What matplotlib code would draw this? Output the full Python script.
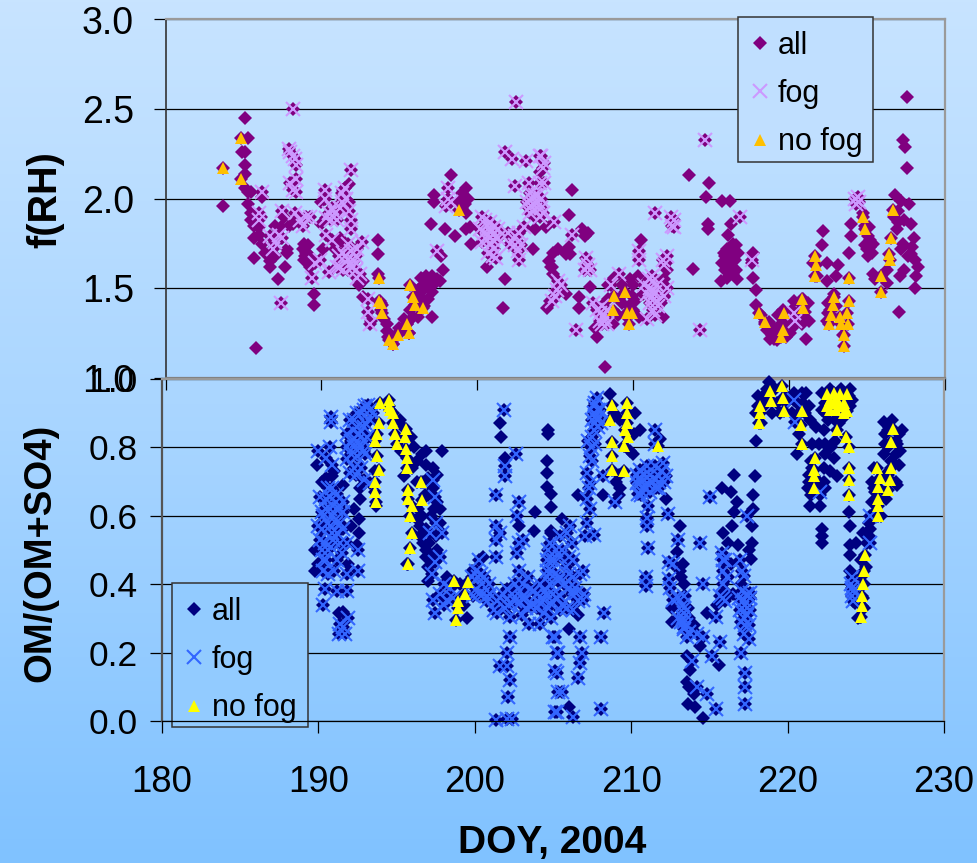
import numpy as np
import matplotlib
matplotlib.use("Agg")
import matplotlib.pyplot as plt
from matplotlib.colors import LinearSegmentedColormap
from matplotlib.patches import Rectangle

plt.rcParams['font.family'] = ['Liberation Sans', 'DejaVu Sans']

# ---------- f(RH) panel: points that are neither fog nor no-fog class ----------
top_other = [(183.7,1.96),(185.1,2.45),(185.3,2.34),(184.9,2.26),(185.1,2.26),(185.1,2.19),(185.1,2.14),(185.1,2.06),
(185.3,2.04),(185.3,1.97),(185.5,2.04),(185.5,1.92),(185.5,1.88),(185.7,1.85),(185.7,1.78),(185.7,1.67),(185.8,1.17),
(186.0,1.84),(186.0,1.80),(186.4,1.70),(186.2,2.01),(186.7,1.62),(186.7,1.65),(187.2,1.55),(187.65,1.62),(187.8,1.70),
(187.8,1.72),(187.4,1.84),(187.4,1.78),(187.9,1.85),(188.2,1.86),(189.5,1.47),(189.5,1.41),(188.8,1.72),(189.15,1.74),
(188.95,1.68),(189.15,1.64),(189.0,1.70),(189.3,1.68),(190.0,1.98),(190.0,1.86),(191.4,2.05),(191.8,2.08),(191.8,1.98),
(191.6,1.74),(191.7,1.60),(192.7,1.54),(193.6,1.77),(193.6,1.69),(193.6,1.58),(192.7,1.45),(193.2,1.32),(193.75,1.43),
(193.85,1.38),(194.2,1.30),(194.3,1.23),(194.6,1.19),(194.9,1.25),(195.2,1.28),(195.5,1.30),(195.6,1.25),(196.2,1.34),
(197.1,1.34),(196.4,1.56),(196.7,1.57),(197.1,1.57),(197.6,1.54),(197.8,1.60),(197.7,1.68),(196.5,1.49),(196.85,1.44),
(196.4,1.45),(196.9,1.51),(197.3,1.53),(196.2,1.49),(196.6,1.52),(197.0,1.86),(197.9,1.83),(198.55,1.79),(197.2,2.02),
(197.2,1.98),(198.3,2.13),(198.8,1.99),(199.3,2.06),(199.2,1.97),(199.3,1.92),(199.3,1.83),(199.6,1.75),(199.0,1.95),
(199.5,1.84),(200.6,1.62),(201.8,1.55),(201.65,1.39),(203.7,1.90),(203.7,1.83),(203.6,1.72),(204.0,2.15),(204.4,1.84),
(204.85,1.70),(204.75,1.62),(204.85,1.58),(206.05,2.05),(205.9,1.91),(205.9,1.73),(205.7,1.69),(205.7,1.47),(204.65,1.43),
(204.5,1.39),(206.5,1.45),(206.5,1.39),(206.7,1.83),(207.1,1.81),(206.9,1.79),(205.95,1.69),(204.8,1.62),(207.2,1.51),
(207.65,1.23),(207.55,1.28),(208.2,1.06),(208.4,1.52),(208.2,1.34),(208.7,1.30),(209.7,1.40),(210.1,1.43),(210.3,1.57),
(210.5,1.77),(209.3,1.42),(209.9,1.46),(209.0,1.35),(210.0,1.38),(210.4,1.34),(211.4,1.46),(212.0,1.55),(212.1,1.64),
(212.1,1.51),(212.0,1.45),(213.6,2.13),(214.85,2.09),(214.7,2.01),(215.7,1.99),(216.2,1.99),(213.85,1.61),(214.8,1.86),
(214.8,1.83),(216.3,1.86),(216.1,1.80),(216.6,1.74),(216.2,1.72),(215.7,1.64),(216.1,1.66),(216.5,1.66),(216.1,1.62),
(215.65,1.54),(216.65,1.55),(216.3,1.69),(215.9,1.68),(217.7,1.70),(217.6,1.64),(217.7,1.56),(217.9,1.49),(217.9,1.41),
(218.2,1.35),(218.45,1.30),(218.75,1.22),(219.2,1.21),(219.5,1.30),(220.4,1.30),(220.05,1.25),(220.7,1.42),(221.2,1.42),
(221.3,1.32),(221.1,1.22),(220.2,1.38),(219.0,1.28),(220.8,1.30),(222.2,1.82),(222.1,1.74),(221.55,1.64),(222.4,1.64),
(223.15,1.63),(221.8,1.57),(222.4,1.54),(223.0,1.57),(223.85,1.70),(224.0,1.86),(223.95,1.79),(222.5,1.42),(222.4,1.32),
(222.9,1.47),(223.45,1.24),(224.75,1.92),(225.05,1.79),(225.4,1.75),(225.05,1.68),(224.9,1.74),(225.4,1.58),(226.25,1.53),
(227.05,1.37),(226.8,2.02),(227.2,1.99),(227.7,1.97),(227.4,1.88),(227.85,1.86),(226.9,1.83),(227.2,1.72),(227.1,1.57),
(227.4,1.60),(227.85,1.69),(228.25,1.62),(228.15,1.57),(228.05,1.50),(227.55,2.57),(227.3,2.33),(227.45,2.29),(227.55,2.17),
(196.3,1.50),(196.5,1.55),(196.8,1.54),(197.1,1.48),(197.4,1.55),(196.2,1.40),(196.6,1.40),(195.9,1.34),(195.7,1.38),
(194.0,1.33),(193.9,1.41),(194.2,1.26),(194.5,1.23),(195.0,1.28),(195.3,1.33),(216.0,1.72),(216.3,1.62),(216.4,1.58),
(215.9,1.60),(216.7,1.70),(218.6,1.27),(219.0,1.22),(219.3,1.28),(219.8,1.32),(220.2,1.28),(220.6,1.36),(221.0,1.37),
(220.9,1.44),(219.5,1.25),(222.6,1.38),(223.0,1.40),(222.5,1.36),(225.0,1.72),(225.2,1.77),(225.1,1.84),(227.9,1.73),
(228.1,1.66),(227.0,1.87),(226.7,1.90),(191.2,1.78),(190.9,1.72),(187.0,1.68),(188.9,1.66),(189.3,1.62),(185.8,1.90),
(186.2,1.75),(187.0,1.85),(199.4,2.0),(199.0,2.03),(209.3,1.52),(208.8,1.56),(210.0,1.52),(211.8,1.42),(211.9,1.34),
(212.2,1.60),(209.8,1.55),
(219.3,1.35),(219.6,1.38),(220.3,1.43),(220.0,1.33),(220.7,1.33),(218.7,1.31),(218.9,1.24),(219.8,1.23),(221.0,1.33),
(225.2,1.73),(225.3,1.70),(224.9,1.85),(225.5,1.55),(228.0,1.78),(227.6,1.68),(226.3,1.60),(227.3,1.75),(227.0,1.93),
(216.0,1.56),(216.4,1.75),(216.6,1.60),(215.8,1.70),(191.0,1.75),(192.4,1.52),(189.1,1.70),(188.9,1.75),(190.1,1.72),
(186.1,1.90),(187.6,1.90),(204.6,1.65),(205.2,1.72),(208.4,1.44),(209.1,1.44),(209.5,1.35),(210.6,1.47)]

top_fog = [(187.4,1.42),(188.2,2.5),(187.9,2.28),(188.0,2.26),(188.2,2.24),(188.3,2.22),(188.4,2.19),(188.4,2.11),(188.0,2.09),
(188.2,2.05),(188.4,2.04),(187.45,1.93),(186.2,2.04),(186.0,1.92),(186.0,1.88),(186.7,1.79),(187.0,1.76),(187.3,1.80),
(187.5,1.78),(186.9,1.72),(188.3,1.92),(188.6,1.88),(188.8,1.85),(189.0,1.90),(189.3,1.90),(189.4,1.56),(189.9,1.66),
(189.6,1.64),(190.2,2.05),(190.2,2.0),(190.5,1.92),(190.7,1.95),(190.9,1.92),(191.0,1.88),(190.3,1.89),(191.3,2.03),
(191.5,2.06),(191.3,1.98),(191.6,2.00),(191.9,2.16),(191.8,1.93),(191.9,1.88),(191.9,1.83),(190.3,1.80),(190.7,1.77),
(192.6,1.76),(192.3,1.72),(191.9,1.71),(192.2,1.68),(191.4,1.70),(191.1,1.68),(191.7,1.66),(191.2,1.62),(191.0,1.62),
(190.5,1.59),(191.4,1.60),(192.0,1.62),(192.2,1.60),(192.3,1.56),(192.5,1.58),(192.1,1.65),(193.0,1.44),(193.0,1.37),
(193.1,1.30),(197.4,1.71),(198.1,2.06),(198.1,2.0),(198.0,1.96),(198.3,1.98),(200.3,1.90),(200.5,1.88),(200.8,1.87),
(201.1,1.84),(200.2,1.83),(200.4,1.81),(200.7,1.80),(201.0,1.80),(201.3,1.78),(200.6,1.77),(200.9,1.75),(201.1,1.72),
(200.7,1.70),(201.0,1.68),(201.2,1.67),(202.0,1.81),(202.4,1.79),(202.7,1.81),(203.0,1.84),(202.1,1.75),(202.4,1.74),
(202.6,1.71),(202.8,1.74),(202.7,1.66),(201.8,2.26),(202.2,2.22),(203.15,2.21),(202.5,2.54),(202.4,2.07),(203.3,2.09),
(204.1,2.24),(204.3,2.2),(204.2,2.17),(204.0,2.09),(204.3,2.09),(203.2,1.98),(203.3,1.95),(203.5,2.0),(203.7,2.02),
(203.9,1.98),(204.1,1.95),(203.4,1.92),(203.7,1.94),(204.2,1.92),(204.0,1.90),(204.95,1.87),(206.05,1.80),(205.2,1.54),
(205.1,1.49),(205.0,1.46),(204.8,1.43),(205.35,1.52),(206.3,1.27),(207.0,1.67),(207.1,1.63),(206.9,1.60),(207.2,1.60),
(207.4,1.42),(207.7,1.38),(207.9,1.36),(208.1,1.35),(208.3,1.38),(207.9,1.32),(208.3,1.30),(208.6,1.52),(209.1,1.58),
(210.4,1.71),(210.4,1.66),(210.9,1.33),(211.0,1.55),(210.7,1.52),(211.2,1.57),(211.3,1.54),(211.5,1.52),(211.1,1.50),
(211.4,1.48),(211.2,1.45),(211.5,1.43),(211.6,1.40),(211.3,1.38),(212.0,1.46),(212.2,1.50),(211.9,1.66),(212.2,1.68),
(212.0,1.63),(211.4,1.92),(212.4,1.90),(212.6,1.88),(212.5,1.85),(212.6,1.84),(214.3,1.27),(214.6,2.33),(216.85,1.90),
(217.6,1.66),(220.4,1.32),(220.3,1.36),(224.2,2.0),(224.3,1.97),(224.4,2.01),(224.5,1.98),
(200.6,1.85),(200.9,1.83),(201.0,1.77),(200.3,1.76),(201.3,1.83),(203.6,1.97),(203.9,2.02),(204.1,2.00),(203.4,2.03),
(204.0,2.24),(208.0,1.40),(208.2,1.33),(208.0,1.30),(211.2,1.48),(211.1,1.42),(210.9,1.47),(211.4,1.35),(190.6,1.88),
(191.2,1.95),(191.7,1.75),(191.9,1.62),(191.5,1.68)]

top_nofog = [(183.7,2.17),(184.85,2.34),(184.85,2.11),(193.7,1.56),(193.7,1.43),(193.8,1.42),(193.9,1.36),(194.35,1.21),
(194.6,1.19),(194.9,1.24),(195.5,1.30),(195.6,1.25),(195.7,1.52),(195.85,1.45),(196.0,1.41),(196.5,1.39),(198.8,1.94),
(208.8,1.46),(209.45,1.48),(208.7,1.38),(209.6,1.36),(209.9,1.36),(209.75,1.30),(218.1,1.36),(218.45,1.31),(219.7,1.36),
(219.6,1.27),(219.5,1.23),(220.8,1.44),(220.9,1.39),(221.65,1.68),(221.75,1.63),(221.65,1.57),(223.85,1.56),(222.9,1.45),
(222.8,1.41),(222.7,1.35),(222.55,1.30),(223.85,1.43),(223.7,1.36),(223.25,1.34),(223.35,1.30),(223.8,1.30),(223.55,1.24),
(223.55,1.18),(224.75,1.90),(224.85,1.83),(226.65,1.94),(226.55,1.78),(226.4,1.69),(226.5,1.66),(225.9,1.57),(225.9,1.48)]

# ---------- OM/(OM+SO4) panel ----------
bot_other = [(189.9,.75),(190.85,.715),(191.6,.69),(192.67,.68),(192.67,.65),(192.6,.59),(192.45,.515),(189.8,.50),(189.8,.44),
(191.6,.32),(191.3,.315),(193.7,.63),(195.2,.88),(195.4,.86),(196.1,.80),(196.9,.79),(197.9,.79),(196.9,.75),(195.45,.715),
(196.7,.70),(197.6,.64),(197.8,.62),(196.5,.57),(196.7,.52),(196.9,.56),(195.65,.46),(197.0,.41),(198.2,.42),(199.05,.40),
(200.55,.48),(199.5,.30),(198.75,.40),(201.6,.87),(201.7,.83),(201.9,.77),(204.7,.85),(204.7,.84),(204.6,.76),(204.6,.725),
(204.6,.685),(204.85,.665),(204.9,.625),(203.85,.61),(203.8,.555),(202.8,.57),(204.9,.555),(205.55,.59),(204.9,.55),(206.0,.27),
(206.6,.31),(206.0,.04),(208.65,.955),(210.55,.85),(210.25,.90),(209.2,.66),(208.2,.66),(209.3,.68),(206.6,.66),(212.25,.65),
(211.85,.825),(213.1,.57),(212.9,.495),(212.6,.33),(212.6,.29),(213.2,.42),(213.45,.365),(216.6,.72),(217.9,.715),(215.8,.68),
(217.8,.66),(216.4,.67),(216.75,.64),(217.8,.62),(216.55,.61),(217.7,.57),(216.45,.57),(215.9,.55),(217.7,.52),(217.65,.475),
(216.85,.515),(216.2,.52),(216.2,.365),(213.55,.19),(213.75,.15),(213.55,.115),(213.65,.05),(214.1,.04),(214.6,.01),(215.6,.165),
(214.85,.315),(218.8,.99),(218.7,.97),(218.0,.90),(218.0,.82),(219.5,.90),(220.4,.96),(221.2,.96),(221.35,.92),(221.45,.88),
(220.7,.84),(221.55,.81),(222.3,.85),(222.4,.81),(222.4,.78),(222.3,.74),(222.95,.77),(223.05,.82),(223.15,.715),(221.55,.74),
(222.1,.63),(221.45,.63),(222.2,.56),(222.2,.54),(222.2,.52),(223.9,.61),(224.0,.57),(224.0,.515),(224.0,.485),(224.0,.44),
(226.15,.875),(227.1,.84),(226.25,.81),(226.9,.78),(226.15,.78),(227.3,.85),(225.5,.68),(225.2,.58),(225.3,.56),(224.3,.345),
(224.65,.305),
(195.3,.79),(195.9,.83),(196.3,.76),(196.6,.78),(197.0,.66),(197.3,.68),(197.6,.72),(196.4,.62),(196.6,.60),(196.9,.50),(197.2,.60),
(197.5,.54),(197.2,.48),(197.0,.45),(198.4,.36),(199.3,.34),(199.8,.44),(190.5,.71),(191.0,.73),(192.3,.62),(192.6,.55),(190.2,.70),
(190.0,.46),(191.9,.46),(192.1,.57),(193.6,.73),(218.1,.95),(218.3,.87),(218.5,.92),(219.0,.90),(219.3,.93),(219.9,.93),(220.3,.90),
(220.7,.90),(221.1,.90),(220.6,.78),(221.4,.72),(221.3,.68),(222.0,.70),(222.3,.70),(222.7,.73),(221.5,.66),(222.4,.93),(223.9,.95),
(224.0,.92),(222.4,.90),(223.0,.88),(223.6,.89),(226.4,.85),(226.7,.88),(226.9,.82),(226.2,.72),(226.9,.70),(227.2,.79),(226.2,.67),
(225.4,.64),(225.6,.61),(225.1,.52),(224.7,.42),(225.0,.45),(224.8,.36),(224.9,.33),(213.3,.46),(213.1,.44),(213.4,.40),(213.6,.33),
(213.7,.30),(214.0,.28),(214.4,.22),(213.7,.10),(214.0,.08),(216.4,.46),(216.2,.42),(216.5,.37),(216.0,.38),(217.0,.40),(217.5,.50),
(215.5,.34),(209.2,.72),(209.0,.70),(209.9,.79),(210.2,.84),(209.3,.88),(208.9,.90),(210.1,.78),
(196.0,.74),(196.3,.70),(196.8,.66),(197.0,.71),(197.3,.74),(197.4,.62),(197.8,.58),(196.3,.59),(196.5,.54),(197.1,.52),(197.6,.50),
(196.9,.48),(218.1,.92),(218.4,.95),(218.9,.94),(219.2,.97),(219.9,.95),(220.6,.93),(220.9,.96),(221.0,.93),(222.2,.96),(222.2,.91),
(222.7,.97),(223.4,.97),(224.0,.97),(224.1,.94),(222.6,.88),(223.3,.87),(222.0,.81),(222.8,.80),(221.8,.86),(221.5,.76),(221.4,.70),
(222.1,.66),(222.4,.68),(226.2,.84),(226.4,.80),(226.5,.86),(227.0,.81),(226.6,.76),(227.1,.75),(226.4,.72),(225.5,.74),(225.4,.70),
(225.6,.67),(227.0,.69),(226.3,.65),(226.0,.60),(225.4,.59),(225.2,.54),(224.5,.30),(224.9,.40),(224.7,.47),(224.4,.52),(224.8,.55)]

bot_fog = [(190.8,.89),(190.8,.875),(190.0,.79),(190.75,.80),(190.5,.77),(190.85,.75),(192.0,.88),(192.45,.90),(192.9,.91),
(193.2,.925),(193.5,.90),(191.8,.84),(192.45,.86),(192.9,.86),(193.3,.88),(191.8,.80),(192.45,.82),(192.9,.82),(191.8,.765),
(192.45,.775),(192.9,.79),(192.0,.725),(192.9,.705),(193.3,.695),(190.75,.655),(191.2,.665),(190.1,.655),(191.6,.64),(190.2,.61),
(190.75,.62),(191.6,.61),(190.0,.57),(190.75,.57),(191.6,.56),(190.1,.53),(190.95,.53),(191.8,.52),(190.3,.47),(191.2,.47),
(192.55,.44),(190.3,.44),(191.8,.43),(192.55,.50),(190.4,.385),(191.2,.38),(191.8,.38),(190.3,.34),(191.4,.285),(191.6,.275),
(191.3,.255),(191.7,.255),(191.9,.30),(197.35,.705),(197.45,.655),(197.55,.58),(197.9,.55),(197.15,.55),(197.8,.48),(197.45,.465),
(197.25,.43),(198.0,.40),(197.35,.355),(197.45,.315),(198.2,.355),(200.1,.44),(200.45,.40),(200.1,.385),(200.75,.365),(199.9,.365),
(201.2,.325),(201.85,.91),(202.65,.78),(201.9,.745),(201.9,.715),(201.35,.66),(201.35,.57),(201.6,.55),(201.35,.53),(201.35,.48),
(202.8,.64),(202.7,.60),(202.8,.52),(202.7,.49),(203.1,.53),(202.8,.44),(203.1,.40),(202.05,.385),(203.55,.385),(202.25,.345),
(202.9,.345),(203.55,.335),(204.2,.40),(204.6,.44),(204.2,.345),(204.8,.40),(205.05,.47),(204.8,.345),(201.4,.315),(202.25,.305),
(203.45,.285),(204.2,.285),(202.25,.245),(202.05,.20),(201.6,.16),(202.05,.16),(202.25,.12),(202.15,.07),(201.35,.002),(202.05,.006),
(202.4,.006),(205.15,.245),(205.25,.20),(205.15,.145),(205.35,.085),(205.15,.025),(204.8,.52),(205.45,.54),(206.1,.57),(204.6,.47),
(205.45,.48),(206.3,.47),(204.6,.42),(205.45,.42),(206.95,.44),(206.3,.42),(204.6,.365),(205.45,.365),(206.5,.375),(206.95,.355),
(204.4,.315),(205.45,.325),(206.3,.325),(207.15,.58),(207.6,.545),(207.05,.54),(208.25,.315),(208.1,.245),(205.0,.245),(205.3,.20),
(206.75,.245),(206.85,.20),(206.75,.17),(206.6,.125),(205.25,.14),(205.55,.085),(205.25,.025),(206.3,.012),(208.1,.035),(207.8,.945),
(207.6,.92),(208.0,.91),(207.8,.88),(207.6,.85),(208.1,.87),(207.25,.82),(207.35,.775),(207.15,.725),(207.35,.695),(207.15,.65),
(207.35,.62),(208.2,.715),(208.95,.64),(211.55,.85),(211.5,.81),(210.55,.735),(211.0,.745),(211.5,.745),(212.05,.755),(210.35,.695),
(211.0,.695),(211.5,.705),(212.25,.715),(210.45,.665),(211.1,.63),(211.0,.595),(211.0,.57),(212.35,.605),(211.05,.505),(210.95,.42),
(210.95,.395),(215.05,.655),(214.4,.52),(213.0,.53),(212.7,.46),(212.4,.465),(212.4,.415),(212.7,.355),(213.35,.365),(213.35,.315),
(213.35,.275),(214.2,.255),(214.6,.245),(213.55,.245),(215.7,.23),(215.15,.19),(213.9,.175),(214.2,.10),(214.85,.08),(215.45,.035),
(214.6,.40),(215.45,.305),(215.8,.49),(215.9,.44),(215.9,.40),(216.95,.47),(217.2,.425),(215.7,.365),(217.4,.60),(217.6,.375),
(217.2,.355),(216.95,.325),(217.6,.325),(217.2,.255),(217.5,.24),(217.05,.20),(217.3,.14),(217.3,.10),(217.3,.05),(225.3,.52),
(224.1,.39),(224.1,.365),(220.4,.94),(220.5,.875),(222.1,.67),(225.3,.60),
(190.4,.52),(190.6,.50),(190.9,.60),(191.1,.58),(191.3,.62),(190.5,.65),(190.9,.68),(190.2,.56),(191.4,.52),(191.0,.44),(190.6,.43),
(192.1,.82),(192.3,.88),(192.7,.90),(193.0,.87),(193.1,.83),(192.1,.78),(192.7,.74),(192.25,.74),(193.0,.92),(193.3,.91),(198.6,.36),
(198.4,.39),(198.0,.34),(197.8,.37),(200.3,.47),(200.4,.43),(200.6,.42),(200.3,.37),(200.9,.40),(201.6,.36),(201.9,.33),(202.4,.37),
(202.6,.40),(202.9,.38),(203.2,.36),(203.0,.31),(203.4,.42),(203.8,.38),(204.0,.33),(204.5,.38),(204.9,.44),(205.2,.36),(205.2,.50),
(204.9,.30),(205.7,.40),(205.9,.33),(206.0,.48),(206.2,.37),(206.7,.43),(206.0,.39),(207.7,.93),(207.9,.91),(207.7,.89),(207.9,.86),
(207.5,.88),(207.4,.80),(207.5,.76),(207.3,.68),(210.6,.70),(210.8,.72),(210.7,.67),(211.2,.72),(211.2,.67),(211.7,.72),(211.8,.68),
(211.9,.73),(210.5,.71),(212.1,.70),(213.3,.34),(213.3,.30),(213.5,.28),(213.2,.29),(212.5,.39),(213.0,.36),(217.1,.38),(217.4,.33),
(217.6,.36),(217.2,.30),(217.0,.29),(217.5,.28),(215.9,.36),(216.0,.47),(224.1,.42),(224.2,.38),(224.2,.35),(224.05,.40),
(190.3,.60),(190.5,.62),(190.6,.58),(190.9,.55),(191.1,.62),(191.4,.58),(190.2,.50),(190.5,.47),(190.8,.51),(191.2,.55),(191.5,.49),
(190.6,.68),(191.1,.64),(192.3,.80),(192.6,.84),(192.7,.80),(192.2,.85),(193.0,.78),(192.4,.72),(199.8,.42),(200.2,.42),(200.5,.37),
(200.8,.35),(201.0,.37),(201.4,.35),(201.8,.37),(202.1,.34),(202.6,.35),(203.0,.36),(203.3,.33),(203.7,.34),(204.0,.37),(204.3,.36),
(204.7,.33),(205.0,.37),(205.3,.41),(205.6,.34),(204.7,.50),(204.9,.47),(205.1,.43),(205.6,.50),(205.8,.45),(206.0,.43),(206.4,.39),
(206.6,.35),(207.0,.37),(206.2,.52),(205.9,.55),(207.6,.90),(207.9,.89),(207.7,.87),(207.5,.83),(207.7,.81),(210.4,.72),(210.8,.68),
(211.3,.70),(211.6,.68),(211.8,.70),(212.0,.73),(210.6,.66),(213.35,.33),(213.35,.29),(213.4,.27),(213.0,.30),(213.7,.26),(217.1,.33),
(217.4,.31),(217.4,.37),(217.1,.44),(216.9,.36),(217.3,.28),(215.9,.47),(216.1,.42),(216.0,.35)]

bot_nofog = [(193.95,.93),(194.5,.94),(194.6,.91),(193.85,.87),(194.8,.87),(193.75,.84),(194.9,.84),(193.6,.82),(195.0,.81),
(195.6,.855),(195.55,.83),(195.6,.795),(195.65,.77),(195.65,.74),(193.75,.775),(193.85,.735),(193.6,.70),(193.6,.67),(193.7,.64),
(194.5,.92),(194.8,.90),(196.55,.70),(196.6,.645),(195.7,.675),(195.75,.65),(196.0,.63),(195.85,.60),(196.0,.55),(195.85,.505),
(195.7,.46),(198.7,.41),(199.55,.405),(199.35,.37),(198.95,.35),(198.95,.33),(198.8,.295),(208.75,.925),(208.65,.88),(208.75,.815),
(208.8,.775),(208.75,.735),(209.55,.73),(209.75,.93),(209.75,.90),(209.75,.87),(209.6,.85),(209.8,.83),(209.55,.805),(211.7,.805),
(218.9,.965),(218.95,.935),(219.65,.98),(219.7,.945),(219.75,.905),(218.25,.92),(218.25,.90),(218.15,.87),(220.9,.905),(220.85,.865),
(220.95,.81),(221.75,.77),(221.7,.735),(221.7,.715),(221.7,.68),(222.5,.955),(222.95,.96),(223.35,.955),(223.8,.955),(222.5,.92),
(222.95,.93),(223.35,.92),(223.8,.905),(222.7,.94),(223.15,.94),(223.6,.93),(222.7,.91),(223.1,.91),(223.6,.90),(223.15,.85),(223.75,.83),
(223.9,.80),(223.9,.74),(223.9,.705),(223.9,.66),(226.75,.855),(226.6,.815),(226.6,.74),(226.55,.705),(226.45,.675),(225.7,.74),(225.9,.71),
(225.8,.685),(225.75,.65),(225.8,.63),(225.75,.60),(224.95,.485),(224.9,.44),(224.8,.40),(224.75,.365),(224.75,.335),(224.7,.305)]

x_ticks = [180, 190, 200, 210, 220, 230]
top_y_ticks = [1.0, 1.5, 2.0, 2.5, 3.0]
bot_y_ticks = [0.0, 0.2, 0.4, 0.6, 0.8, 1.0]
series_labels = ['all', 'fog', 'no fog']

W, H = 978, 863
fig = plt.figure(figsize=(W/100, H/100), dpi=100)

bg = fig.add_axes([0, 0, 1, 1], zorder=-1)
cmap = LinearSegmentedColormap.from_list('bg', ['#C8E4FF', '#A8D5FF', '#80C2FF'])
bg.imshow(np.linspace(0, 1, 256)[:, None], aspect='auto', cmap=cmap, extent=[0, 1, 0, 1], origin='upper')
bg.axis('off')

def rect(l, t, r, b):
    return [l/W, 1-b/H, (r-l)/W, (b-t)/H]

ax1 = fig.add_axes(rect(165.5, 19.5, 945, 378), facecolor='none')
ax2 = fig.add_axes(rect(162, 379, 944, 721), facecolor='none')

def series(ax, other, fog, nofog, c_all, c_fog, c_no):
    all_pts = np.array(other + fog + nofog)
    f = np.array(fog); n = np.array(nofog)
    h1, = ax.plot(all_pts[:, 0], all_pts[:, 1], ls='none', marker='D', ms=7.6, color=c_all, mew=0, clip_on=False, label=series_labels[0], zorder=3)
    h2, = ax.plot(f[:, 0], f[:, 1], ls='none', marker='x', ms=9.5, color=c_fog, mew=1.5, clip_on=False, label=series_labels[1], zorder=3.1)
    h3, = ax.plot(n[:, 0], n[:, 1], ls='none', marker='^', ms=8.2, color=c_no, mew=0, clip_on=False, label=series_labels[2], zorder=3.2)
    return [h1, h2, h3]

h_top = series(ax1, top_other, top_fog, top_nofog, '#800080', '#CC99FF', '#FFC000')
h_bot = series(ax2, bot_other, bot_fog, bot_nofog, '#000080', '#3366FF', '#FFFF00')

for ax, yt, ylim in ((ax1, top_y_ticks, (1, 3)), (ax2, bot_y_ticks, (0, 1))):
    ax.set_xlim(180, 230)
    ax.set_ylim(*ylim)
    ax.set_xticks(x_ticks)
    ax.set_yticks(yt)
    ax.set_yticklabels([f'{v:.1f}' for v in yt])
    ax.grid(axis='y', color='black', lw=0.9, zorder=1)
    ax.set_axisbelow(True)
    ax.tick_params(axis='both', length=8.6, width=0.9, color='black')
    for s in ('top', 'right'):
        ax.spines[s].set_color('#9A9A9A')
        ax.spines[s].set_linewidth(1.6)

ax1.spines['bottom'].set_color('#808080'); ax1.spines['bottom'].set_linewidth(1.6)
ax1.spines['left'].set_color('#333333'); ax1.spines['left'].set_linewidth(1.2)
ax2.spines['left'].set_color('#555555'); ax2.spines['left'].set_linewidth(1.6)
ax2.spines['bottom'].set_color('black'); ax2.spines['bottom'].set_linewidth(0.9)
ax2.spines['bottom'].set_zorder(6)

ax1.tick_params(axis='x', labelbottom=False)
ax1.tick_params(axis='y', labelsize=27, pad=14)
ax2.tick_params(axis='y', labelsize=25.5, pad=9)
ax2.tick_params(axis='x', labelsize=26.3, pad=23)

def legend(ax, handles, box, anchor, face):
    l, t, r, b = box
    ax.add_patch(Rectangle((l/W, 1-b/H), (r-l)/W, (b-t)/H, transform=fig.transFigure, clip_on=False,
                           facecolor=face, edgecolor='#333333', lw=1.1, zorder=4.9))
    leg = ax.legend(handles=handles, loc='upper left', bbox_to_anchor=anchor, bbox_transform=fig.transFigure,
                    fontsize=22, labelspacing=0.6, handlelength=0.7, handletextpad=0.22, borderpad=0.38,
                    borderaxespad=0, frameon=False)
    leg.set_zorder(5)
    return leg

legend(ax1, h_top, (738, 17, 873, 162), (738/W, 1-19/H), '#C0DFFF')
legend(ax2, h_bot, (172, 583, 308, 727), (172/W, 1-585/H), '#92CBFF')

fig.text(552/W, 1-843/H, 'DOY, 2004', fontsize=28, fontweight='bold', ha='center', va='center')
fig.text(45/W, 1-200/H, 'f(RH)', fontsize=28.5, fontweight='bold', rotation=90, ha='center', va='center')
fig.text(40/W, 1-553/H, 'OM/(OM+SO4)', fontsize=27.5, fontweight='bold', rotation=90, ha='center', va='center')

fig.savefig('out.png', dpi=100)
